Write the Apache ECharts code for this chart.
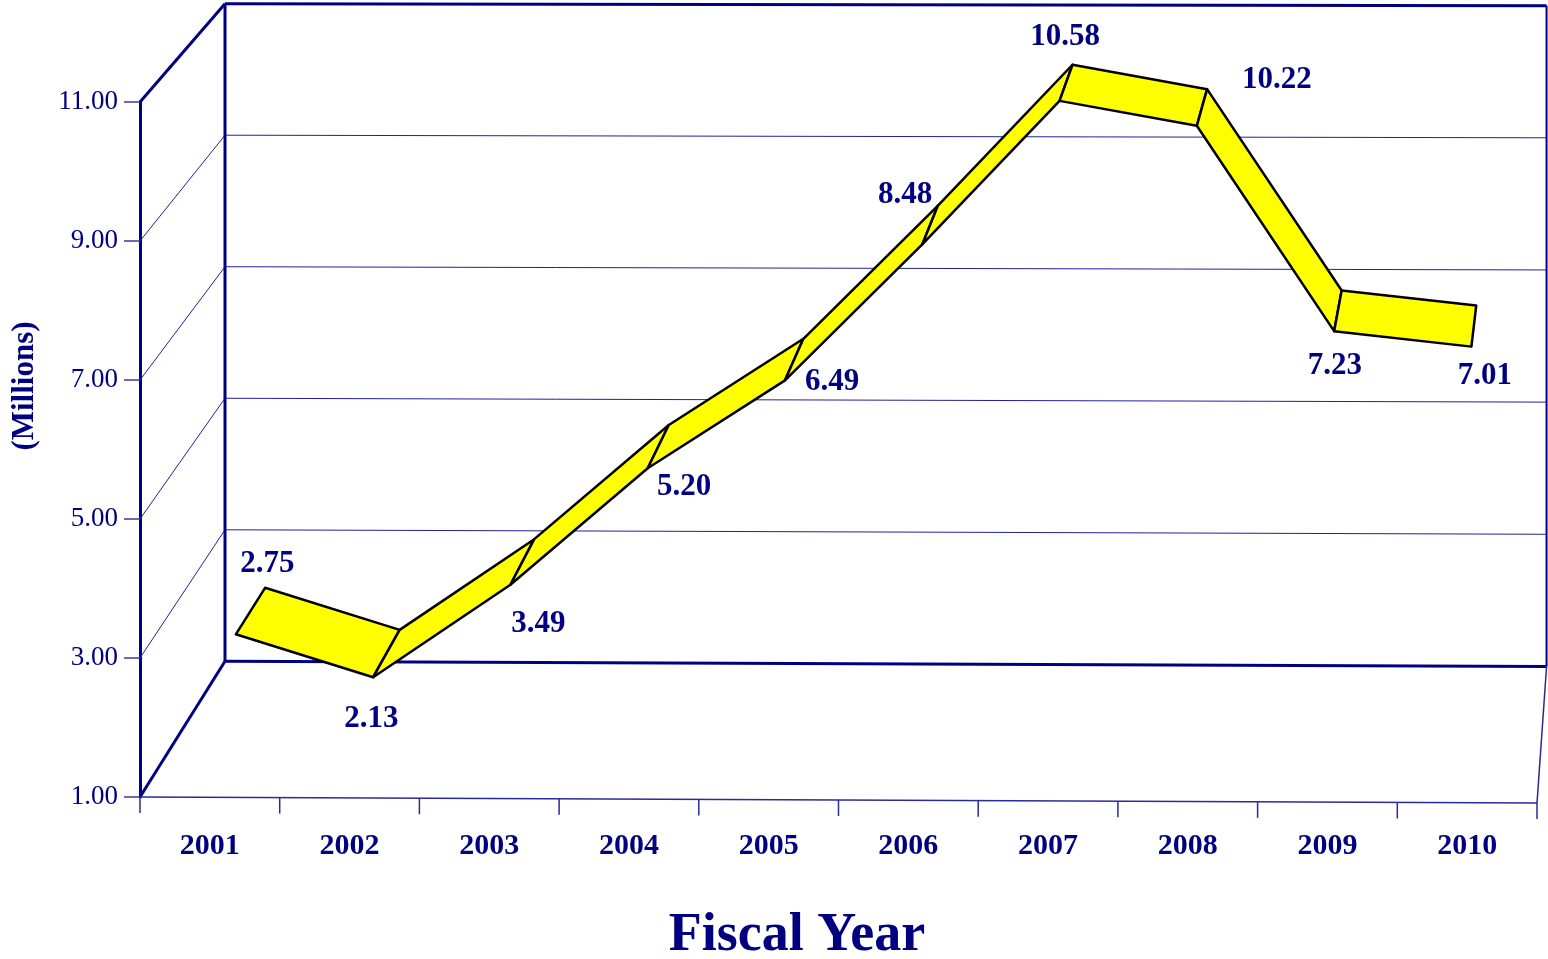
<!DOCTYPE html>
<html>
<head>
<meta charset="utf-8">
<script src="https://cdn.jsdelivr.net/npm/echarts@6/dist/echarts.min.js"></script>
<style>
html,body{margin:0;padding:0;background:#fff;overflow:hidden;width:100%;height:100%;}
#chart{width:100vw;height:100vh;}
</style>
</head>
<body>
<div id="chart"></div>
<script>
// ---- data ----
const years = ['2001','2002','2003','2004','2005','2006','2007','2008','2009','2010'];
const values = [2.75, 2.13, 3.49, 5.20, 6.49, 8.48, 10.58, 10.22, 7.23, 7.01];
const yMin = 1, yMax = 11, yStep = 2;
const xTitle = 'Fiscal Year';
const yTitle = '(Millions)';

// ---- styles (not data) ----
const NAVY = '#000080';
const FONT = "'Liberation Serif','Times New Roman',serif";
const DEPTH = { dx: 85, dy: -136, scale: 0.946 };      // back wall vs front plane
const RIBBON = { near: 0.32, far: 0.68 };               // ribbon depth span
const SKEW = { a: 0.0015, y0: 5, b: 0.0000036 };        // slight perspective tilt
const labelOffsets = [[17,-47],[-15,65],[16,62],[26,40],[38,22],[-25,-30],[-1,-46],[75,-28],[-3,55],[11,50]];

function makeProj(cs) {
  const ox = cs.x, oy = cs.y + cs.height;
  return function (x, y, t) {
    const bx = ox + DEPTH.dx + (x - ox) * DEPTH.scale;
    const by = oy + DEPTH.dy + (y - oy) * DEPTH.scale;
    const px = x + (bx - x) * t;
    let py = y + (by - y) * t;
    py += (px - ox) * (SKEW.a + (py - SKEW.y0) * SKEW.b);
    return [px, py];
  };
}
function seg(a, b, style) {
  return { type: 'line', shape: { x1: a[0], y1: a[1], x2: b[0], y2: b[1] }, style: style };
}

function renderBox(params, api) {
  const cs = params.coordSys;
  const proj = makeProj(cs);
  const x0 = cs.x, x1 = cs.x + cs.width;
  const yv = v => api.coord([0, v])[1];
  const band = api.size([1, 0])[0];
  const thick = { stroke: NAVY, lineWidth: 3 };
  const thin = { stroke: '#2020a0', lineWidth: 1 };
  const mid = { stroke: '#2a2a9a', lineWidth: 1.5 };
  const ch = [];
  for (let v = yMin; v <= yMax + 1e-9; v += yStep) {
    const y = yv(v);
    const edge = (v === yMin || Math.abs(v - yMax) < 1e-9);
    ch.push(seg(proj(x0, y, 1), proj(x1, y, 1), edge ? thick : thin));
    ch.push(seg(proj(x0, y, 0), proj(x0, y, 1), edge ? thick : thin));
  }
  ch.push(seg(proj(x0, yv(yMin), 1), proj(x0, yv(yMax), 1), thick));
  ch.push(seg(proj(x1, yv(yMin), 1), proj(x1, yv(yMax), 1), { stroke: NAVY, lineWidth: 2 }));
  ch.push(seg(proj(x0, yv(yMin), 0), proj(x1, yv(yMin), 0), mid));
  ch.push(seg(proj(x1, yv(yMin), 0), proj(x1, yv(yMin), 1), mid));
  for (let i = 0; i <= years.length; i++) {
    const p = proj(x0 + i * band, yv(yMin), 0);
    ch.push(seg(p, [p[0], p[1] + 16], mid));
  }
  return { type: 'group', children: ch };
}

function renderRibbon(params, api) {
  const cs = params.coordSys;
  const proj = makeProj(cs);
  const a = api.coord([api.value(0), api.value(1)]);
  const b = api.coord([api.value(2), api.value(3)]);
  const pts = [
    proj(a[0], a[1], RIBBON.near), proj(b[0], b[1], RIBBON.near),
    proj(b[0], b[1], RIBBON.far), proj(a[0], a[1], RIBBON.far)
  ];
  return {
    type: 'polygon',
    shape: { points: pts },
    style: { fill: '#FFFF00', stroke: '#000000', lineWidth: 2.5, lineJoin: 'round' }
  };
}

function renderLabels(params, api) {
  const cs = params.coordSys;
  const proj = makeProj(cs);
  const i = params.dataIndex;
  const c = api.coord([api.value(0), api.value(1)]);
  const m = proj(c[0], c[1], (RIBBON.near + RIBBON.far) / 2);
  const off = labelOffsets[i];
  return {
    type: 'text',
    x: m[0] + off[0], y: m[1] + off[1],
    style: {
      text: api.value(1).toFixed(2),
      fill: NAVY, fontSize: 31, fontWeight: 'bold', fontFamily: FONT,
      align: 'center', verticalAlign: 'middle'
    }
  };
}

const segments = values.slice(0, -1).map((v, i) => [i, v, i + 1, values[i + 1]]);
const points = values.map((v, i) => [i, v]);

const chart = echarts.init(document.getElementById('chart'));
chart.setOption({
  animation: false,
  backgroundColor: '#ffffff',
  grid: { left: 140, top: 102, width: 1397, height: 695, containLabel: false },
  xAxis: {
    type: 'category', data: years, boundaryGap: true,
    axisLine: { show: false }, axisTick: { show: false },
    axisLabel: { color: NAVY, fontSize: 30, fontWeight: 'bold', fontFamily: FONT, margin: 34 },
    splitLine: { show: false }
  },
  yAxis: {
    type: 'value', min: yMin, max: yMax, interval: yStep,
    axisLine: { show: true, lineStyle: { color: NAVY, width: 3 } },
    axisTick: { show: true, length: 16, lineStyle: { color: '#3a3aa0', width: 1.5 } },
    axisLabel: { color: NAVY, fontSize: 27, fontFamily: FONT, margin: 22, formatter: v => v.toFixed(2) },
    splitLine: { show: false }
  },
  graphic: [{
    type: 'text', x: 25, y: 386, rotation: Math.PI / 2,
    style: { text: yTitle, fill: NAVY, fontSize: 31, fontWeight: 'bold', fontFamily: FONT, align: 'center', verticalAlign: 'middle' }
  }, {
    type: 'text', x: 797, y: 936,
    style: { text: xTitle, fill: NAVY, fontSize: 54, fontWeight: 'bold', fontFamily: FONT, align: 'center', verticalAlign: 'middle' }
  }],
  series: [
    { type: 'custom', coordinateSystem: 'cartesian2d', data: [[0, yMin]], renderItem: renderBox, clip: false, z: 1, silent: true },
    { type: 'custom', coordinateSystem: 'cartesian2d', data: segments, encode: { x: [0, 2], y: [1, 3] }, renderItem: renderRibbon, clip: false, z: 2 },
    { type: 'custom', coordinateSystem: 'cartesian2d', data: points, encode: { x: 0, y: 1 }, renderItem: renderLabels, clip: false, z: 3 }
  ]
});
</script>
</body>
</html>
